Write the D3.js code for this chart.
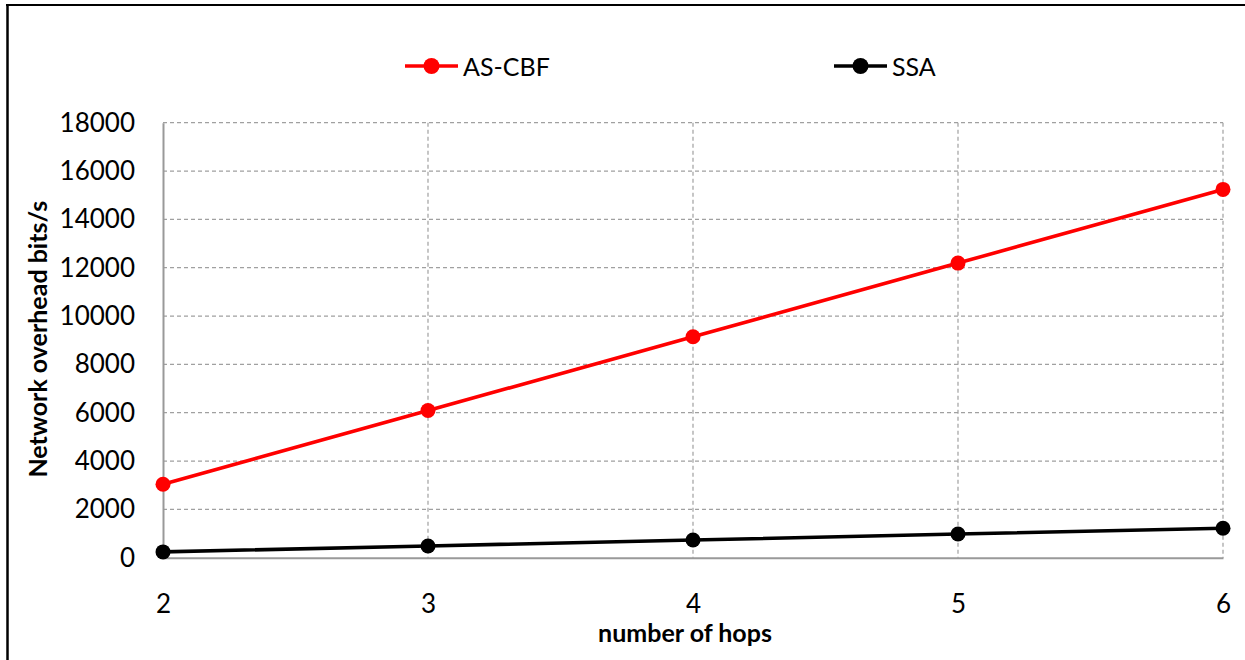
<!DOCTYPE html>
<html>
<head>
<meta charset="utf-8">
<script src="https://cdn.jsdelivr.net/npm/d3@7"></script>
<style>
  html, body { margin: 0; padding: 0; background: #fff; }
  svg { display: block; }
  text { font-family: Lato, "Open Sans", sans-serif; }
</style>
</head>
<body>
<svg id="chart" width="1245" height="660"></svg>
<script>
// Network overhead per hop count
const hops = [2, 3, 4, 5, 6];
const asCbf = [3040, 6090, 9140, 12190, 15240];
const ssa = [240, 485, 730, 980, 1220];
const yTicks = [0, 2000, 4000, 6000, 8000, 10000, 12000, 14000, 16000, 18000];

const seriesList = [
  { name: "AS-CBF", values: asCbf, color: "#ff0000" },
  { name: "SSA", values: ssa, color: "#000000" }
];

const svg = d3.select("#chart");
const FONT = "Lato, 'Open Sans', sans-serif";

// outer frame (left and top edges)
svg.append("line").attr("x1", 7.5).attr("y1", 4).attr("x2", 7.5).attr("y2", 660)
  .attr("stroke", "#000").attr("stroke-width", 2.5);
svg.append("line").attr("x1", 6).attr("y1", 5).attr("x2", 1245).attr("y2", 5)
  .attr("stroke", "#000").attr("stroke-width", 2);

const plot = { left: 163, right: 1223, top: 122.7, bottom: 557.7 };

const x = d3.scaleLinear().domain([2, 6]).range([plot.left, plot.right]);
const y = d3.scaleLinear().domain([0, 18000]).range([plot.bottom, plot.top]);

// horizontal gridlines
svg.append("g")
  .selectAll("line")
  .data(yTicks.filter(d => d > 0))
  .join("line")
  .attr("x1", plot.left).attr("x2", plot.right)
  .attr("y1", d => y(d)).attr("y2", d => y(d))
  .attr("stroke", "#a0a0a0").attr("stroke-width", 1.2)
  .attr("stroke-dasharray", "4,3");

// vertical gridlines
svg.append("g")
  .selectAll("line")
  .data(hops.filter(d => d > 2))
  .join("line")
  .attr("x1", d => x(d)).attr("x2", d => x(d))
  .attr("y1", plot.top).attr("y2", plot.bottom)
  .attr("stroke", "#a0a0a0").attr("stroke-width", 1.2)
  .attr("stroke-dasharray", "4,3");

// y axis
const yAxis = svg.append("g")
  .attr("transform", `translate(${plot.left},0)`)
  .call(d3.axisLeft(y).tickValues(yTicks).tickSize(0).tickPadding(28).tickFormat(d3.format("d")));
yAxis.select(".domain").attr("stroke", "#999").attr("stroke-width", 2);
yAxis.selectAll("text").attr("font-size", 26).attr("fill", "#000").attr("font-family", FONT);

// x axis
const xAxis = svg.append("g")
  .attr("transform", `translate(0,${plot.bottom})`)
  .call(d3.axisBottom(x).tickValues(hops).tickSize(0).tickPadding(37).tickFormat(d3.format("d")));
xAxis.select(".domain").attr("stroke", "#999").attr("stroke-width", 2);
xAxis.selectAll("text").attr("font-size", 26).attr("fill", "#000").attr("font-family", FONT);

// axis titles
svg.append("text")
  .attr("x", 685)
  .attr("y", 641.5)
  .attr("text-anchor", "middle")
  .attr("font-size", 25).attr("font-weight", "bold")
  .text("number of hops");

svg.append("text")
  .attr("transform", `translate(47,${(plot.top + plot.bottom) / 2 - 1}) rotate(-90)`)
  .attr("text-anchor", "middle")
  .attr("font-size", 25).attr("font-weight", "bold")
  .text("Network overhead bits/s");

// series lines and markers
const line = d3.line().x((d, i) => x(hops[i])).y(d => y(d));
seriesList.forEach(s => {
  svg.append("path")
    .datum(s.values)
    .attr("d", line)
    .attr("fill", "none")
    .attr("stroke", s.color)
    .attr("stroke-width", 3.6);
  svg.append("g")
    .selectAll("circle")
    .data(s.values)
    .join("circle")
    .attr("cx", (d, i) => x(hops[i]))
    .attr("cy", d => y(d))
    .attr("r", 7.5)
    .attr("fill", s.color);
});

// legend
const legendPos = [{ x: 405, y: 66 }, { x: 834, y: 66 }];
seriesList.forEach((s, i) => {
  const g = svg.append("g").attr("transform", `translate(${legendPos[i].x},${legendPos[i].y})`);
  g.append("line").attr("x1", 0).attr("x2", 53).attr("y1", 0).attr("y2", 0)
    .attr("stroke", s.color).attr("stroke-width", 3.6);
  g.append("circle").attr("cx", 26.5).attr("cy", 0).attr("r", 8).attr("fill", s.color);
  g.append("text").attr("x", 58).attr("y", 10).attr("font-size", 25).attr("fill", "#000")
    .text(s.name);
});
</script>
</body>
</html>
